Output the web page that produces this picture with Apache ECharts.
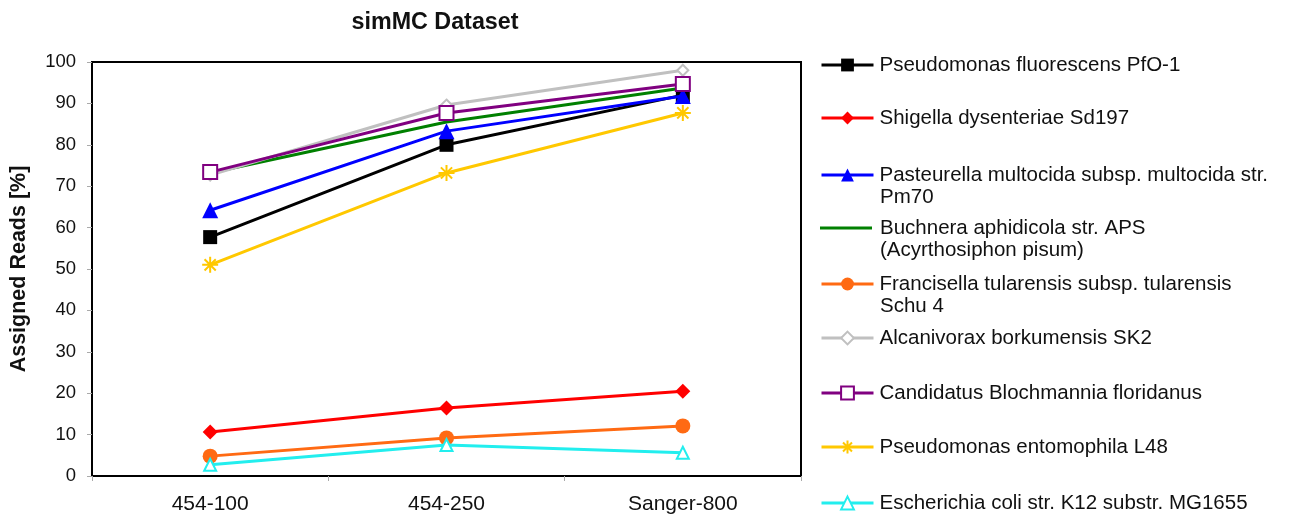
<!DOCTYPE html>
<html><head><meta charset="utf-8">
<script src="https://cdn.jsdelivr.net/npm/echarts@6/dist/echarts.min.js"></script>
<style>html,body{margin:0;padding:0;background:#fff}#c{width:1289px;height:520px}</style>
</head><body><div id="c"></div>
<script>
const categories = ['454-100', '454-250', 'Sanger-800'];
const yTicks = [0, 10, 20, 30, 40, 50, 60, 70, 80, 90, 100];
const seriesNames = [
  'Pseudomonas fluorescens PfO-1',
  'Shigella dysenteriae Sd197',
  'Pasteurella multocida subsp. multocida str.\nPm70',
  'Buchnera aphidicola str. APS\n(Acyrthosiphon pisum)',
  'Francisella tularensis subsp. tularensis\nSchu 4',
  'Alcanivorax borkumensis SK2',
  'Candidatus Blochmannia floridanus',
  'Pseudomonas entomophila L48',
  'Escherichia coli str. K12 substr. MG1655'
];
const pFluorescens = [57.7, 80.0, 92.0];
const shigella = [10.6, 16.4, 20.5];
const pasteurella = [64.2, 83.3, 91.8];
const buchnera = [73.2, 85.5, 93.7];
const francisella = [4.8, 9.2, 12.1];
const alcanivorax = [72.7, 89.6, 98.0];
const blochmannia = [73.4, 87.7, 94.7];
const pEntomophila = [51.0, 73.2, 87.7];
const ecoli = [2.7, 7.5, 5.6];

const values = [pFluorescens, shigella, pasteurella, buchnera, francisella, alcanivorax, blochmannia, pEntomophila, ecoli];
const colors = ['#000000', '#ff0000', '#0000ff', '#008000', '#ff6a13', '#c0c0c0', '#800080', '#ffc800', '#22eeee'];
const asterisk = 'path://M0,5L10,5M5,0L5,10M1.5,1.5L8.5,8.5M8.5,1.5L1.5,8.5';
const styles = [
  {symbol: 'rect', size: 14, hollow: false},
  {symbol: 'diamond', size: 15, hollow: false},
  {symbol: 'triangle', size: 16, hollow: false},
  {symbol: 'none', size: 0, hollow: false},
  {symbol: 'circle', size: 15, hollow: false},
  {symbol: 'diamond', size: 11, hollow: true},
  {symbol: 'rect', size: 14, hollow: true},
  {symbol: asterisk, size: 16, star: true},
  {symbol: 'triangle', size: 12, hollow: true}
];
const legendY = [65, 118, 175, 228, 284, 338, 393, 447, 503];

const chart = echarts.init(document.getElementById('c'), null, {renderer: 'canvas'});
const FONT = 'Liberation Sans';

const series = seriesNames.map((n, i) => {
  const st = styles[i];
  const c = colors[i];
  let itemStyle;
  if (st.star) itemStyle = {color: c, borderColor: c, borderWidth: 2};
  else if (st.hollow) itemStyle = {color: '#ffffff', borderColor: c, borderWidth: 2};
  else itemStyle = {color: c, borderColor: c, borderWidth: 0};
  return {
    name: n, type: 'line', data: values[i],
    symbol: st.symbol, symbolSize: st.size, showSymbol: st.symbol !== 'none',
    lineStyle: {color: c, width: 3}, itemStyle: itemStyle,
    emphasis: {disabled: true}, animation: false, z: 2 + i
  };
});

const legends = seriesNames.map((n, i) => {
  const noSym = styles[i].symbol === 'none';
  return {
    data: [noSym ? {name: n, icon: 'rect'} : n],
    orient: 'vertical', left: 820, top: legendY[i] - 11, padding: 0,
    itemWidth: 52, itemHeight: noSym ? 3 : 16, itemGap: 0, selectedMode: false,
    lineStyle: {width: 3},
    formatter: (name) => name.split('\n')[0],
    textStyle: {fontFamily: FONT, fontSize: 20.5, color: '#111', lineHeight: 22, padding: [0, 0, 0, noSym ? 3 : 1]}
  };
});

const secondLines = [];
seriesNames.forEach((n, i) => {
  const parts = n.split('\n');
  if (parts.length > 1) {
    secondLines.push({type: 'text', left: 880, top: legendY[i] + 23 - 11,
      style: {text: parts[1], font: '20.5px "' + FONT + '"', fill: '#111'}});
  }
});

chart.setOption({
  backgroundColor: '#ffffff',
  animation: false,
  title: {text: 'simMC Dataset', left: 430, top: 6, textAlign: 'center',
    textStyle: {fontFamily: FONT, fontSize: 23.3, fontWeight: 'bold', color: '#111'}},
  grid: {left: 89, right: 488, top: 62, bottom: 44, show: true, borderColor: '#000', borderWidth: 2, containLabel: false},
  legend: legends,
  xAxis: {type: 'category', data: categories, boundaryGap: true,
    axisLine: {lineStyle: {color: '#000', width: 2}},
    axisTick: {show: true, inside: false, length: 5, lineStyle: {color: '#aaa'}},
    axisLabel: {fontFamily: FONT, fontSize: 21, color: '#111', margin: 18},
    splitLine: {show: false}},
  yAxis: {type: 'value', min: yTicks[0], max: yTicks[yTicks.length - 1], interval: 10,
    name: 'Assigned Reads [%]', nameLocation: 'middle', nameRotate: 90, nameGap: 62,
    nameTextStyle: {fontFamily: FONT, fontSize: 21.5, fontWeight: 'bold', color: '#111'},
    axisLine: {show: true, lineStyle: {color: '#000', width: 2}},
    axisTick: {show: true, inside: false, length: 5, lineStyle: {color: '#aaa'}},
    axisLabel: {fontFamily: FONT, fontSize: 18.5, color: '#111', margin: 16},
    splitLine: {show: false}},
  graphic: secondLines,
  series: series
});
</script></body></html>
